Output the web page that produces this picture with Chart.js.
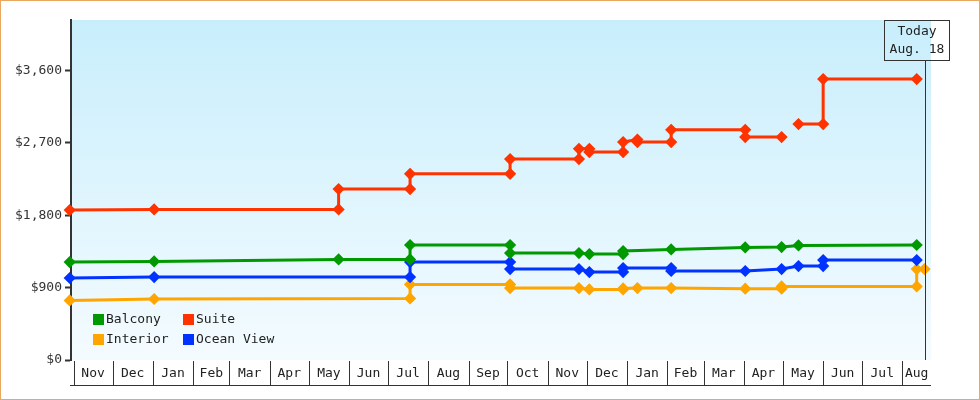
<!DOCTYPE html>
<html><head><meta charset="utf-8">
<script src="https://cdn.jsdelivr.net/npm/chart.js@4/dist/chart.umd.min.js"></script>
<style>html,body{margin:0;padding:0;background:#fff}#w{width:980px;height:400px;position:relative;box-sizing:border-box}canvas{display:block}#b{position:absolute;left:0;top:0;width:978px;height:398px;border:1px solid #e8a860;pointer-events:none}</style>
</head><body><div id="w"><canvas id="c" width="980" height="400"></canvas><div id="b"></div></div>
<script>
// x values are days since Nov 1 of the first year
const months = ["Nov","Dec","Jan","Feb","Mar","Apr","May","Jun","Jul","Aug","Sep","Oct","Nov","Dec","Jan","Feb","Mar","Apr","May","Jun","Jul","Aug"];
const monthStartDays = [0,30,61,92,120,151,181,212,242,273,304,334,365,395,426,457,485,516,546,577,607,638];
const yTicks = [0,900,1800,2700,3600];
const todayDay = 655;
const todayLabel = ["Today","Aug. 18"];
const balconyDays = [-3,62,204,259,259,336,336,389,397,423,423,460,517,545,558,649];
const balconyVals = [1217,1225,1250,1250,1429,1429,1329,1329,1317,1317,1354,1374,1399,1404,1424,1429];
const suiteDays = [-3,62,204,204,259,259,336,336,389,389,397,397,423,423,434,434,460,460,517,517,545,551,558,577,577,649];
const suiteVals = [1863,1871,1871,2124,2124,2314,2314,2497,2497,2625,2625,2584,2584,2708,2740,2708,2708,2861,2861,2770,2770,null,2932,2932,3491,3491];
const oceanDays = [-3,62,259,259,336,336,389,397,423,423,460,460,517,545,558,577,577,649];
const oceanVals = [1019,1031,1031,1217,1217,1130,1130,1093,1093,1143,1143,1106,1106,1130,1168,1168,1242,1242];
const interiorDays = [-3,62,259,259,336,336,389,397,423,423,434,460,517,545,545,649,649,655];
const interiorVals = [740,758,765,939,939,894,894,877,877,889,894,894,886,886,914,914,1130,1130];

const FONT = "'DejaVu Sans Mono', monospace";
const pts = (d,v)=>d.map((x,i)=>({x:x,y:v[i]}));
function ds(label,d,v,color){return {label,data:pts(d,v),borderColor:color,backgroundColor:color,borderWidth:3,pointStyle:'rectRot',pointRadius:4,pointHoverRadius:4,tension:0,spanGaps:false,clip:false};}

const bgPlugin = {id:'bg',beforeDraw(ch){const {ctx,chartArea:a}=ch;const g=ctx.createLinearGradient(0,a.top,0,a.bottom);g.addColorStop(0,'#c8eefc');g.addColorStop(1,'#f4fbff');ctx.fillStyle=g;ctx.fillRect(a.left,a.top,a.right-a.left,a.bottom-a.top);}};
const decoPlugin = {id:'deco',afterDraw(ch){
  const {ctx,chartArea:a}=ch;const xs=ch.scales.x;
  ctx.save();
  ctx.strokeStyle='#333';ctx.lineWidth=1;ctx.font='13px '+FONT;ctx.fillStyle='#222';ctx.textAlign='center';ctx.textBaseline='middle';
  const top=a.bottom+1,bot=a.bottom+25;
  for(let i=0;i<months.length;i++){
    const x0=xs.getPixelForValue(monthStartDays[i]);
    const x1=i+1<months.length?xs.getPixelForValue(monthStartDays[i+1]):a.right;
    ctx.beginPath();ctx.moveTo(Math.round(x0)+0.5,top);ctx.lineTo(Math.round(x0)+0.5,bot);ctx.stroke();
    ctx.fillText(months[i],(x0+x1)/2,(top+bot)/2+1);
  }
  ctx.beginPath();ctx.moveTo(a.left-1,bot+0.5);ctx.lineTo(a.right,bot+0.5);ctx.stroke();
  const tx=Math.round(xs.getPixelForValue(todayDay))+0.5;
  ctx.beginPath();ctx.moveTo(tx,60);ctx.lineTo(tx,a.bottom);ctx.stroke();
  ctx.strokeRect(884.5,20.5,65,40);
  ctx.fillStyle='#222';ctx.textAlign='center';
  ctx.fillText(todayLabel[0],917,32);ctx.fillText(todayLabel[1],917,50);
  const items=[['Balcony','#009900',93,320],['Suite','#ff3300',183,320],['Interior','#ffa500',93,340],['Ocean View','#0033ff',183,340]];
  ctx.textAlign='left';
  for(const [t,c,x,y] of items){ctx.fillStyle=c;ctx.fillRect(x,y-6,11,11);ctx.fillStyle='#222';ctx.fillText(t,x+13,y);}
  ctx.restore();
}};

new Chart(document.getElementById('c'),{
  type:'line',
  data:{datasets:[
    ds('Suite',suiteDays,suiteVals,'#ff3300'),
    ds('Balcony',balconyDays,balconyVals,'#009900'),
    ds('Ocean View',oceanDays,oceanVals,'#0033ff'),
    ds('Interior',interiorDays,interiorVals,'#ffa500')
  ]},
  options:{responsive:false,animation:false,
    layout:{padding:{left:0,top:20,right:49,bottom:40}},
    plugins:{legend:{display:false},tooltip:{enabled:false}},
    scales:{
      x:{type:'linear',min:-2,max:660,display:false},
      y:{min:0,max:4225,afterFit(s){s.width=71;},
        afterBuildTicks(s){s.ticks=yTicks.map(v=>({value:v}));},
        ticks:{color:'#333',font:{family:FONT,size:13},padding:3,callback:v=>'$'+v.toLocaleString('en-US')},
        grid:{drawOnChartArea:false,drawTicks:true,tickLength:6,color:'#333',tickWidth:2},
        border:{display:true,color:'#333',width:2}}
    }},
  plugins:[bgPlugin,decoPlugin]
});
</script></body></html>
